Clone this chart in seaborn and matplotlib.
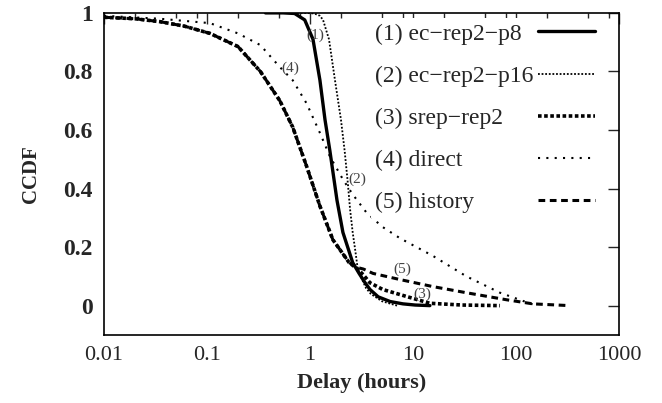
import numpy as np
import seaborn as sns
import matplotlib
matplotlib.use("Agg")
import matplotlib.pyplot as plt
from matplotlib.ticker import LogLocator, FixedLocator, NullFormatter

# (delay in hours, CCDF)
p8_x = [0.37, 0.55, 0.71, 0.89, 1.07, 1.25, 1.4, 1.56, 1.83, 2.09, 2.6, 3.0, 3.4, 3.83, 4.6, 6.0, 8.0, 10.5, 14.6]
p8_y = [1.0, 1.0, 0.998, 0.976, 0.91, 0.77, 0.635, 0.53, 0.36, 0.25, 0.147, 0.11, 0.08, 0.055, 0.03, 0.014, 0.006, 0.002, 0.0]

p16_x = [0.75, 0.9, 1.1, 1.25, 1.34, 1.53, 1.75, 2.0, 2.17, 2.33, 2.45, 2.6, 2.75, 2.9, 3.2, 3.5, 3.9, 5.0, 7.0]
p16_y = [1.0, 1.0, 0.998, 0.99, 0.976, 0.91, 0.77, 0.635, 0.53, 0.42, 0.33, 0.25, 0.19, 0.13, 0.09, 0.06, 0.04, 0.015, 0.0]

srep_x = [0.01, 0.02, 0.035, 0.06, 0.107, 0.2, 0.33, 0.51, 0.68, 0.93, 1.25, 1.67, 2.4, 2.9,
          3.3, 3.83, 5.1, 8.7, 14.6, 30, 70]
srep_y = [0.985, 0.98, 0.97, 0.955, 0.93, 0.885, 0.80, 0.70, 0.61, 0.475, 0.34, 0.225, 0.147, 0.125,
          0.105, 0.078, 0.055, 0.031, 0.008, 0.002, 0.0]

direct_x = [0.01, 0.035, 0.107, 0.2, 0.33, 0.51, 0.68, 0.93, 1.25, 1.56, 2.1, 2.6, 3.5, 5.0, 7.5, 15.6, 33, 70, 146]
direct_y = [0.99, 0.98, 0.965, 0.93, 0.89, 0.815, 0.77, 0.69, 0.59, 0.51, 0.43, 0.38, 0.32, 0.27, 0.23, 0.17, 0.10, 0.044, 0.004]

hist_x = [0.01, 0.02, 0.035, 0.06, 0.107, 0.2, 0.33, 0.51, 0.68, 0.93, 1.25, 1.67, 2.4, 2.9,
          3.3, 4.1, 7.5, 15.6, 33, 81, 146, 333]
hist_y = [0.985, 0.98, 0.97, 0.955, 0.93, 0.885, 0.80, 0.70, 0.61, 0.475, 0.34, 0.225, 0.147, 0.13,
          0.125, 0.11, 0.089, 0.065, 0.044, 0.02, 0.006, 0.0]

labels = ["(1) ec\u2212rep2\u2212p8", "(2) ec\u2212rep2\u2212p16", "(3) srep\u2212rep2",
          "(4) direct", "(5) history"]
tags = ["(1)", "(2)", "(3)", "(4)", "(5)"]
tag_x = [1.14, 2.86, 12.2, 0.65, 7.8]
tag_y = [0.925, 0.43, 0.038, 0.81, 0.123]

sns.set_style("white")
plt.rcParams['font.family'] = ['Liberation Serif', 'DejaVu Serif']

fig, ax = plt.subplots(figsize=(6.62, 4.03), dpi=100)
fig.subplots_adjust(left=0.157, right=0.935, top=0.968, bottom=0.169)

series = [(p8_x, p8_y, '-', 2.4),
          (p16_x, p16_y, (0, (1, 1)), 1.3),
          (srep_x, srep_y, (0, (1, 0.7)), 2.6),
          (direct_x, direct_y, (0, (1, 3)), 1.5),
          (hist_x, hist_y, (0, (2.2, 1.5)), 2.2)]
for (xs, ys, ls, lw), lab in zip(series, labels):
    sns.lineplot(x=xs, y=ys, ax=ax, color='black', linestyle=ls, linewidth=lw,
                 label=lab, errorbar=None)

for t, tx, ty in zip(tags, tag_x, tag_y):
    ax.text(tx, ty, t, fontsize=11, color='#444444', ha='center', va='center')

ax.set_xscale('log')
ax.set_xlim(0.01, 1000)
ax.set_ylim(-0.1, 1.0)
ax.set_yticks([0, 0.2, 0.4, 0.6, 0.8, 1.0])
ax.set_yticklabels(['0', '0.2', '0.4', '0.6', '0.8', '1'], fontsize=17, fontweight='bold')
ax.xaxis.set_major_locator(FixedLocator([0.01, 0.1, 1, 10, 100, 1000]))
ax.set_xticklabels(['0.01', '0.1', '1', '10', '100', '1000'], fontsize=16)
ax.xaxis.set_minor_locator(LogLocator(base=10, subs=[2, 5, 8]))
ax.xaxis.set_minor_formatter(NullFormatter())
ax.tick_params(which='major', direction='in', length=8, width=1, top=True, right=True, pad=8)
ax.tick_params(which='minor', direction='in', length=3.5, width=1, top=True, right=False)
for s in ax.spines.values():
    s.set_color('black')
    s.set_linewidth(1.2)

ax.set_xlabel('Delay (hours)', fontsize=16, fontweight='bold', labelpad=6)
ax.set_ylabel('CCDF', fontsize=15, fontweight='bold', labelpad=16)

# legend: texts left aligned, samples in a column on the right
handles = ax.get_lines()[:5]
common = dict(fontsize=17, labelspacing=0.875, borderpad=0.2, borderaxespad=0)
leg_txt = ax.legend(handles, labels, loc='upper left', bbox_to_anchor=(0.518, 0.983),
                    handlelength=0, handletextpad=0, frameon=True, fancybox=False, **common)
for h in leg_txt.legend_handles:
    h.set_visible(False)
leg_txt.get_frame().set_facecolor('white')
leg_txt.get_frame().set_edgecolor('none')
leg_txt.get_frame().set_alpha(1)
ax.add_artist(leg_txt)

leg_ln = ax.legend(handles, labels, loc='upper right', bbox_to_anchor=(0.962, 0.983),
                   markerfirst=False, handlelength=2.4, handletextpad=0.5, frameon=False, **common)
for t in leg_ln.get_texts():
    t.set_alpha(0)

fig.savefig('out.png', dpi=100)
